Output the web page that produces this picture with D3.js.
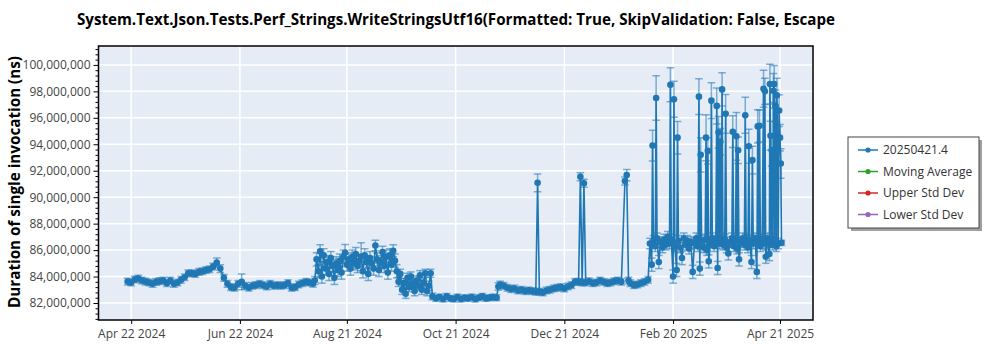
<!DOCTYPE html>
<html><head><meta charset="utf-8">
<script src="https://cdn.jsdelivr.net/npm/d3@7"></script>
<style>
body{margin:0;background:#fff;}
svg{display:block;font-family:"Segoe UI","Open Sans","Noto Sans",sans-serif;}
</style></head><body>
<svg id="chart" width="1000" height="350"></svg>
<script>
// ---- DATA (values and error half-widths are in millions of ns) ----
const titleText = "System.Text.Json.Tests.Perf_Strings.WriteStringsUtf16(Formatted: True, SkipValidation: False, Escape";
const yTitle = "Duration of single invocation (ns)";
const seriesNames = ["20250421.4", "Moving Average", "Upper Std Dev", "Lower Std Dev"];
const seriesColors = ["#1f77b4", "#2ca02c", "#d62728", "#9467bd"];
const xTickDates = ["2024-04-22","2024-06-22","2024-08-21","2024-10-21","2024-12-21","2025-02-20","2025-04-21"];
const yTickValues = [82,84,86,88,90,92,94,96,98,100];

// Segment A: Apr 20 - Aug 2 2024
const datesA = [
"2024-04-20","2024-04-22","2024-04-24","2024-04-26","2024-04-28","2024-04-30",
"2024-05-02","2024-05-04","2024-05-06","2024-05-08","2024-05-10","2024-05-12","2024-05-14","2024-05-16","2024-05-18","2024-05-20","2024-05-22","2024-05-24","2024-05-26","2024-05-28","2024-05-30",
"2024-06-01","2024-06-03","2024-06-05","2024-06-07","2024-06-09","2024-06-11","2024-06-13","2024-06-15","2024-06-17","2024-06-19","2024-06-21","2024-06-23","2024-06-25","2024-06-27","2024-06-29",
"2024-07-01","2024-07-03","2024-07-05","2024-07-07","2024-07-09","2024-07-11","2024-07-13","2024-07-15","2024-07-17","2024-07-19","2024-07-21","2024-07-23","2024-07-25","2024-07-27","2024-07-29","2024-07-31",
"2024-08-02"];
const valuesA = [
83.62,83.55,83.78,83.85,83.70,83.62,
83.55,83.45,83.60,83.65,83.70,83.50,83.70,83.45,83.55,83.75,83.95,84.25,84.25,84.20,84.35,
84.40,84.50,84.55,84.75,85.05,84.60,83.90,83.45,83.20,83.15,83.45,83.60,83.30,83.15,83.30,
83.35,83.45,83.35,83.25,83.45,83.30,83.35,83.30,83.35,83.50,83.15,83.20,83.40,83.50,83.60,83.55,
83.45];
const errorsA = [
0.25,0.25,0.25,0.25,0.25,0.25,
0.25,0.25,0.25,0.25,0.25,0.25,0.25,0.25,0.25,0.25,0.25,0.25,0.25,0.25,0.25,
0.25,0.25,0.25,0.25,0.35,0.30,0.25,0.25,0.25,0.25,0.25,0.60,0.25,0.25,0.25,
0.25,0.25,0.25,0.25,0.25,0.25,0.25,0.25,0.25,0.25,0.25,0.25,0.25,0.25,0.25,0.25,
0.25];

// Segment B: Aug 3 - Oct 8 2024
const datesB = [
"2024-08-03","2024-08-04","2024-08-05","2024-08-06","2024-08-07","2024-08-08","2024-08-09","2024-08-10","2024-08-11","2024-08-12","2024-08-13","2024-08-14","2024-08-15","2024-08-16","2024-08-17",
"2024-08-18","2024-08-19","2024-08-20","2024-08-21","2024-08-22","2024-08-23","2024-08-24","2024-08-25","2024-08-26","2024-08-27","2024-08-28","2024-08-29","2024-08-30","2024-08-31",
"2024-09-01","2024-09-02","2024-09-03","2024-09-04","2024-09-05","2024-09-06","2024-09-07","2024-09-08","2024-09-09","2024-09-10","2024-09-11","2024-09-12","2024-09-13","2024-09-14","2024-09-15",
"2024-09-16","2024-09-17","2024-09-18","2024-09-19","2024-09-20","2024-09-21","2024-09-22","2024-09-23","2024-09-24","2024-09-25","2024-09-26","2024-09-27","2024-09-28","2024-09-29","2024-09-30",
"2024-10-01","2024-10-02","2024-10-03","2024-10-04","2024-10-05","2024-10-06","2024-10-07","2024-10-08"];
const valuesB = [
83.70,85.30,84.40,85.90,84.00,85.60,84.60,85.10,84.20,85.40,84.80,83.90,85.00,84.50,85.20,
84.30,85.50,85.80,84.90,85.30,84.60,85.50,85.00,85.70,84.80,85.20,85.50,84.40,85.60,
85.10,84.20,85.40,85.00,84.60,86.35,85.30,84.50,85.10,85.85,84.80,85.50,84.30,85.60,84.90,
85.95,85.20,84.40,83.60,84.20,83.00,83.50,82.70,83.90,83.20,84.00,83.40,82.90,83.70,83.30,
84.10,83.00,83.50,84.25,82.90,83.30,84.25,82.50];
const errorsB = [
0.30,0.50,0.50,0.50,0.50,0.50,0.50,0.50,0.50,0.50,0.50,0.50,0.50,0.50,0.50,
0.50,0.50,0.63,0.50,0.50,0.50,0.50,0.50,0.50,0.50,0.50,1.05,0.50,0.50,
0.50,0.50,0.50,0.50,0.50,0.40,0.50,0.50,0.50,0.45,0.50,0.50,0.50,0.50,0.50,
0.45,0.50,0.50,0.35,0.35,0.35,0.35,0.35,0.35,0.35,0.35,0.35,0.35,0.35,0.35,
0.35,0.35,0.35,0.30,0.35,0.35,0.30,0.25];

// Segment C: Oct 10 2024 - Feb 6 2025
const datesC = [
"2024-10-10","2024-10-12","2024-10-14","2024-10-16","2024-10-18","2024-10-20","2024-10-22","2024-10-24","2024-10-26","2024-10-28","2024-10-30",
"2024-11-01","2024-11-03","2024-11-05","2024-11-07","2024-11-09","2024-11-11","2024-11-13","2024-11-14","2024-11-15","2024-11-17","2024-11-19","2024-11-21","2024-11-23","2024-11-25","2024-11-27","2024-11-29",
"2024-12-01","2024-12-03","2024-12-05","2024-12-06","2024-12-07","2024-12-09","2024-12-11","2024-12-13","2024-12-15","2024-12-17","2024-12-19","2024-12-21","2024-12-23","2024-12-25","2024-12-27","2024-12-29","2024-12-30","2024-12-31",
"2025-01-01","2025-01-02","2025-01-04","2025-01-06","2025-01-08","2025-01-10","2025-01-12","2025-01-14","2025-01-16","2025-01-18","2025-01-20","2025-01-22","2025-01-24","2025-01-25","2025-01-26","2025-01-27","2025-01-29","2025-01-31",
"2025-02-02","2025-02-04","2025-02-06"];
const valuesC = [
82.35,82.45,82.30,82.50,82.35,82.30,82.45,82.30,82.40,82.35,82.45,
82.30,82.40,82.50,82.35,82.40,82.45,82.40,83.25,83.40,83.30,83.15,83.05,83.10,82.95,83.00,82.90,
82.95,82.90,82.85,91.09,82.85,82.80,82.95,83.00,83.10,83.15,83.20,83.10,83.25,83.35,83.60,83.60,91.55,83.55,
91.05,83.55,83.65,83.50,83.55,83.70,83.60,83.50,83.55,83.65,83.70,83.60,91.22,91.67,83.70,83.50,83.35,83.40,
83.50,83.60,83.75];
const errorsC = [
0.22,0.22,0.22,0.22,0.22,0.22,0.22,0.22,0.22,0.22,0.22,
0.22,0.22,0.22,0.22,0.22,0.22,0.22,0.28,0.25,0.25,0.25,0.25,0.25,0.25,0.25,0.25,
0.25,0.25,0.25,0.67,0.25,0.25,0.25,0.25,0.25,0.25,0.25,0.25,0.25,0.25,0.25,0.25,0.30,0.25,
0.30,0.25,0.25,0.25,0.25,0.25,0.25,0.25,0.25,0.25,0.25,0.25,0.30,0.43,0.25,0.25,0.25,0.25,
0.25,0.25,0.25];

// Segment D: Feb 7 - Apr 21 2025
const datesD = [
"2025-02-07","2025-02-08","2025-02-08T12:00","2025-02-09","2025-02-10","2025-02-10T12:00","2025-02-11","2025-02-12","2025-02-13",
"2025-02-14","2025-02-15","2025-02-16","2025-02-17","2025-02-18","2025-02-18T12:00","2025-02-19","2025-02-20","2025-02-20T12:00",
"2025-02-21","2025-02-22","2025-02-22T12:00","2025-02-23","2025-02-24","2025-02-25","2025-02-26","2025-02-27","2025-02-28",
"2025-03-01","2025-03-02","2025-03-03","2025-03-04","2025-03-05","2025-03-06","2025-03-06T12:00","2025-03-07","2025-03-07T12:00",
"2025-03-08","2025-03-09","2025-03-10","2025-03-10T12:00","2025-03-11","2025-03-11T12:00","2025-03-12","2025-03-13","2025-03-13T12:00",
"2025-03-14","2025-03-15","2025-03-16","2025-03-16T12:00","2025-03-17","2025-03-17T12:00","2025-03-18","2025-03-18T12:00","2025-03-19","2025-03-19T12:00",
"2025-03-20","2025-03-21","2025-03-21T12:00","2025-03-22","2025-03-23","2025-03-24","2025-03-25","2025-03-25T12:00","2025-03-26",
"2025-03-27","2025-03-27T12:00","2025-03-28","2025-03-28T12:00","2025-03-29","2025-03-30","2025-03-31","2025-04-01","2025-04-01T12:00",
"2025-04-02","2025-04-03","2025-04-03T12:00","2025-04-04","2025-04-05","2025-04-05T12:00","2025-04-06","2025-04-07","2025-04-08","2025-04-08T12:00",
"2025-04-09","2025-04-09T12:00","2025-04-10","2025-04-11","2025-04-11T18:00","2025-04-12","2025-04-12T12:00","2025-04-13","2025-04-14",
"2025-04-15","2025-04-15T08:00","2025-04-15T16:00","2025-04-16","2025-04-16T08:00","2025-04-17","2025-04-17T06:00","2025-04-17T18:00","2025-04-18","2025-04-18T12:00",
"2025-04-19","2025-04-19T06:00","2025-04-19T16:00","2025-04-20","2025-04-20T12:00","2025-04-21","2025-04-21T10:00","2025-04-21T20:00"];
const valuesD = [
86.50,84.90,93.90,86.70,86.30,97.50,86.90,85.10,86.60,
86.20,86.80,86.40,87.00,86.50,98.50,86.80,84.00,97.40,
86.30,84.50,94.50,86.70,86.20,85.40,86.90,86.40,86.70,
86.10,86.60,84.35,86.50,86.90,86.30,97.60,84.60,93.20,
86.70,86.20,86.80,94.50,86.00,93.50,85.15,86.60,97.30,
86.90,86.30,86.70,96.90,84.65,94.90,86.50,94.20,86.90,98.15,
86.40,86.80,96.30,86.20,85.75,86.60,86.90,94.95,86.30,
86.70,94.60,86.10,93.55,85.30,86.60,86.90,86.40,96.20,
86.80,86.20,93.85,86.70,85.10,92.80,86.50,86.90,84.35,95.35,
86.60,95.40,86.30,86.80,98.20,86.50,98.00,85.50,86.90,
85.70,98.55,94.65,86.60,93.55,86.40,98.05,98.55,86.80,96.90,
86.30,97.70,93.55,86.50,96.55,94.50,92.55,86.55];
const errorsD = [
0.40,0.50,1.16,0.40,0.40,1.68,0.40,0.50,0.40,
0.40,0.40,0.40,0.40,0.40,1.28,0.40,0.50,1.36,
0.40,0.50,1.23,0.40,0.40,0.50,0.40,0.40,0.40,
0.40,0.40,0.50,0.40,0.40,0.40,1.35,0.50,1.30,
0.40,0.40,0.40,1.74,0.40,1.00,0.50,0.40,1.36,
0.40,0.40,0.40,1.36,0.50,1.20,0.40,1.00,0.40,1.26,
0.40,0.40,1.46,0.40,0.50,0.40,0.40,1.20,0.40,
0.40,1.80,0.40,1.00,0.50,0.40,0.40,0.40,1.36,
0.40,0.40,1.28,0.40,0.50,1.05,0.40,0.40,0.50,1.26,
0.40,1.20,0.40,0.40,1.40,0.40,1.00,0.50,0.40,
0.50,1.50,1.10,0.40,1.20,0.40,1.30,1.40,0.40,1.20,
0.40,1.30,1.10,0.40,1.20,1.00,1.12,0.20];

const dates = [...datesA, ...datesB, ...datesC, ...datesD];
const values = [...valuesA, ...valuesB, ...valuesC, ...valuesD];
const errors = [...errorsA, ...errorsB, ...errorsC, ...errorsD];

// ---- LAYOUT ----
const parseT = d3.timeParse("%Y-%m-%dT%H:%M");
const parse = s => parseT(s.length === 10 ? s + "T00:00" : s);
const points = dates.map((d, i) => ({t: parse(d), v: values[i], e: errors[i]}));

const m = {l: 98.5, r: 813, t: 46, b: 320};
const x = d3.scaleTime().domain([parse("2024-04-03T16:00"), parse("2025-05-09T12:00")]).range([m.l, m.r]);
const y = d3.scaleLinear().domain([80.715, 101.43]).range([m.b, m.t]);

const svg = d3.select("#chart");
svg.append("rect").attr("width", 1000).attr("height", 350).attr("fill", "#fff");

// title
svg.append("text").attr("x", 77).attr("y", 25)
  .attr("font-size", 16).attr("font-weight", "bold").attr("fill", "#000")
  .attr("textLength", 758).attr("lengthAdjust", "spacingAndGlyphs")
  .text(titleText);

// plot background
svg.append("rect").attr("x", m.l).attr("y", m.t).attr("width", m.r - m.l).attr("height", m.b - m.t).attr("fill", "#E5ECF6");

// grid
const g = svg.append("g");
g.selectAll(".hg").data(yTickValues).join("line")
  .attr("x1", m.l).attr("x2", m.r).attr("y1", d => y(d)).attr("y2", d => y(d))
  .attr("stroke", "#fff").attr("stroke-width", 1.5);
g.selectAll(".vg").data(xTickDates).join("line")
  .attr("x1", d => x(parse(d))).attr("x2", d => x(parse(d))).attr("y1", m.t).attr("y2", m.b)
  .attr("stroke", "#fff").attr("stroke-width", 1.5);

// clip
svg.append("clipPath").attr("id", "clip").append("rect")
  .attr("x", m.l).attr("y", m.t).attr("width", m.r - m.l).attr("height", m.b - m.t);
const data = svg.append("g").attr("clip-path", "url(#clip)");
const col = seriesColors[0];

// error bars
const eb = data.append("g").attr("stroke", col).attr("stroke-opacity", 0.55).attr("stroke-width", 1.5);
const cap = 3.8;
points.forEach(p => {
  const px = x(p.t), y1 = y(p.v - p.e), y2 = y(p.v + p.e);
  eb.append("line").attr("x1", px).attr("x2", px).attr("y1", y1).attr("y2", y2);
  eb.append("line").attr("x1", px - cap).attr("x2", px + cap).attr("y1", y1).attr("y2", y1);
  eb.append("line").attr("x1", px - cap).attr("x2", px + cap).attr("y1", y2).attr("y2", y2);
});

// line
data.append("path").datum(points)
  .attr("fill", "none").attr("stroke", col).attr("stroke-width", 1.6)
  .attr("d", d3.line().x(p => x(p.t)).y(p => y(p.v)));

// markers
data.selectAll("circle").data(points).join("circle")
  .attr("cx", p => x(p.t)).attr("cy", p => y(p.v)).attr("r", 3.3).attr("fill", col);

// frame
svg.append("rect").attr("x", m.l).attr("y", m.t).attr("width", m.r - m.l).attr("height", m.b - m.t)
  .attr("fill", "none").attr("stroke", "#000").attr("stroke-width", 1.5);

// y axis
const fmt = d3.format(",");
const yAxis = svg.append("g").attr("transform", `translate(${m.l},0)`)
  .call(d3.axisLeft(y).tickValues(yTickValues).tickSize(5).tickPadding(3).tickFormat(d => fmt(Math.round(d * 1e6))));
yAxis.select(".domain").remove();
yAxis.selectAll("text").attr("font-size", 12).attr("fill", "#444").attr("font-family", "\"Segoe UI\",\"Open Sans\",sans-serif");
yAxis.selectAll("line").attr("stroke", "#000");
const minor = d3.range(80.8, 101.4, 0.4).filter(v => !yTickValues.some(t => Math.abs(t - v) < 1e-6));
const yMinor = svg.append("g").attr("transform", `translate(${m.l},0)`)
  .call(d3.axisLeft(y).tickValues(minor).tickSize(3).tickFormat(""));
yMinor.select(".domain").remove();
yMinor.selectAll("line").attr("stroke", "#000");

// x axis
const xAxis = svg.append("g").attr("transform", `translate(0,${m.b})`)
  .call(d3.axisBottom(x).tickValues(xTickDates.map(parse)).tickSize(4).tickPadding(5).tickFormat(d3.timeFormat("%b %d %Y")));
xAxis.select(".domain").remove();
xAxis.selectAll("text").attr("font-size", 12).attr("fill", "#444").attr("font-family", "\"Segoe UI\",\"Open Sans\",sans-serif");
xAxis.selectAll("line").attr("stroke", "#000");

// y title
svg.append("text").attr("transform", "translate(20,182) rotate(-90)")
  .attr("text-anchor", "middle").attr("font-size", 16).attr("font-weight", "bold").attr("fill", "#000")
  .attr("textLength", 252).attr("lengthAdjust", "spacingAndGlyphs")
  .text(yTitle);

// legend
const lg = svg.append("g");
lg.append("rect").attr("x", 851).attr("y", 140).attr("width", 131).attr("height", 91).attr("fill", "#a0a0a0");
lg.append("rect").attr("x", 848).attr("y", 137).attr("width", 131).attr("height", 91).attr("fill", "#fff").attr("stroke", "#444").attr("stroke-width", 1);
seriesNames.forEach((name, i) => {
  const yy = 150 + i * 21.5;
  lg.append("line").attr("x1", 858).attr("x2", 878).attr("y1", yy).attr("y2", yy).attr("stroke", seriesColors[i]).attr("stroke-width", 1.5);
  lg.append("circle").attr("cx", 868).attr("cy", yy).attr("r", 2.6).attr("fill", seriesColors[i]);
  lg.append("text").attr("x", 883).attr("y", yy + 4.3).attr("font-size", 12).attr("fill", "#333").text(name);
});
</script>
</body></html>
